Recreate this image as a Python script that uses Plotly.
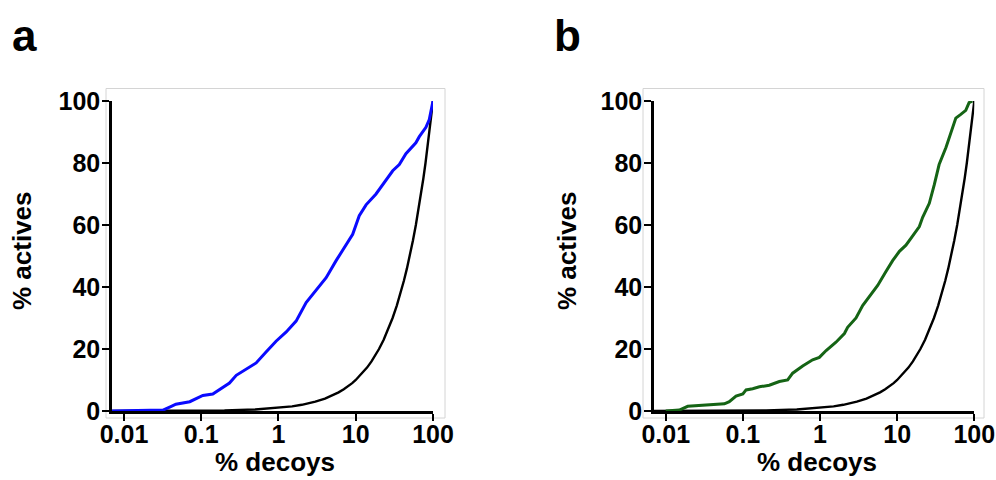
import plotly.graph_objects as go

OFF = 0
W, H = 996, 480

# Panel a: blue enrichment curve (% decoys, % actives)
a_decoys = [0.007, 0.02, 0.032, 0.041, 0.047, 0.071, 0.095, 0.105, 0.141, 0.173, 0.232, 0.284,
            0.382, 0.514, 0.69, 0.93, 1.26, 1.69, 2.28, 3.07, 4.14, 5.57, 7.5, 9.13, 11.1,
            13.6, 18.3, 24.7, 30.1, 36.6, 44.6, 60, 66.5, 81, 89.5, 100]
a_actives = [0, 0.1, 0.3, 1.5, 2.2, 3.0, 4.5, 5.0, 5.5, 7.0, 9.0, 11.5,
             13.5, 15.5, 19.0, 22.5, 25.5, 29.0, 35.0, 39.0, 43.0, 48.5, 53.5, 57.0, 63.0,
             66.5, 70.0, 74.5, 77.5, 79.5, 83.0, 86.5, 88.5, 91.5, 94.0, 100]

# Panel b: green enrichment curve
b_decoys = [0.01, 0.015, 0.0193, 0.0273, 0.0406, 0.0577, 0.0667, 0.0815, 0.1, 0.11, 0.134,
            0.164, 0.22, 0.297, 0.381, 0.442, 0.596, 0.803, 0.98, 1.2, 1.61, 2.07, 2.28,
            2.93, 3.57, 4.36, 5.59, 7.16, 8.74, 10.7, 13.0, 15.9, 19.4, 21.4, 26.1, 30.3,
            35.0, 42.9, 49.8, 57.6, 66.8, 77.5, 85.6, 94.7]
b_actives = [0, 0.3, 1.5, 1.8, 2.2, 2.3, 3.0, 4.8, 5.5, 6.8, 7.2,
             7.8, 8.3, 9.5, 10.0, 12.2, 14.5, 16.5, 17.3, 19.5, 22.2, 25.0, 27.0,
             30.0, 34.0, 37.0, 40.5, 45.0, 48.5, 51.5, 53.5, 56.5, 59.5, 62.5, 67.0, 73.0,
             79.5, 85.0, 89.5, 94.5, 95.7, 97.0, 99.5, 100]

# Random (diagonal) reference: % actives equals % decoys
random_pct = [0.007, 0.01, 0.02, 0.05, 0.1, 0.2, 0.5, 1, 1.5, 2, 3, 4, 5, 6, 7, 8, 9, 10,
              12, 14, 16, 18, 20, 23, 26, 30, 34, 38, 42, 46, 50, 55, 60, 65, 70, 75,
              80, 85, 90, 95, 100]

tick_vals = [0.01, 0.1, 1, 10, 100]
tick_text = ["0.01", "0.1", "1", "10", "100"]
y_ticks = [0, 20, 40, 60, 80, 100]

FONT = "Liberation Sans, Arial, sans-serif"

fig = go.Figure()
fig.add_trace(go.Scatter(x=random_pct, y=random_pct, mode="lines",
                         line=dict(color="black", width=2.4), xaxis="x", yaxis="y",
                         showlegend=False, hoverinfo="skip"))
fig.add_trace(go.Scatter(x=a_decoys, y=a_actives, mode="lines",
                         line=dict(color="#0a0aff", width=3), xaxis="x", yaxis="y",
                         showlegend=False))
fig.add_trace(go.Scatter(x=random_pct, y=random_pct, mode="lines",
                         line=dict(color="black", width=2.4), xaxis="x2", yaxis="y2",
                         showlegend=False, hoverinfo="skip"))
fig.add_trace(go.Scatter(x=b_decoys, y=b_actives, mode="lines",
                         line=dict(color="#156415", width=3), xaxis="x2", yaxis="y2",
                         showlegend=False))

def xpx(p):
    return (p - OFF) / W

def ypx(p):
    return 1 - (p - OFF) / H

tickfont = dict(family=FONT, size=25, color="black", weight="bold")

common_x = dict(type="log", showline=True, linecolor="black", linewidth=2.5,
                ticks="outside", ticklen=7, tickwidth=2.2, tickcolor="black",
                tickvals=tick_vals, ticktext=tick_text, tickfont=tickfont,
                ticklabelstandoff=-8,
                showgrid=False, zeroline=False, fixedrange=True, automargin=False)
common_y = dict(range=[0, 100], showline=True, linecolor="black", linewidth=2.5,
                ticks="outside", ticklen=7, tickwidth=2.2, tickcolor="black",
                tickvals=y_ticks, tickfont=tickfont, ticklabelstandoff=-3,
                showgrid=False, zeroline=False,
                fixedrange=True, automargin=False)

fig.update_layout(
    width=W, height=H, margin=dict(l=0, r=0, t=0, b=0, pad=0, autoexpand=False),
    paper_bgcolor="white", plot_bgcolor="rgba(0,0,0,0)",
    xaxis=dict(common_x, domain=[xpx(112), xpx(433)], range=[-2.155, 2.0], anchor="y"),
    yaxis=dict(common_y, domain=[ypx(411), ypx(101)], anchor="x"),
    xaxis2=dict(common_x, domain=[xpx(654), xpx(974.3)], range=[-2.152, 2.0], anchor="y2"),
    yaxis2=dict(common_y, domain=[ypx(411), ypx(101)], anchor="x2"),
)

# light gray frames around each panel
for (x0, x1) in [(106, 445), (643, 984)]:
    fig.add_shape(type="rect", xref="paper", yref="paper",
                  x0=xpx(x0), x1=xpx(x1), y0=ypx(418), y1=ypx(88.5),
                  line=dict(color="#d4d4d4", width=1), layer="below")

title_font = dict(family=FONT, size=26, color="black", weight="bold")
for cx in [275, 817]:
    fig.add_annotation(text="% decoys", xref="paper", yref="paper",
                       x=xpx(cx), y=ypx(462), xanchor="center", yanchor="middle",
                       showarrow=False, font=title_font)
for cx in [22, 567]:
    fig.add_annotation(text="% actives", xref="paper", yref="paper",
                       x=xpx(cx), y=ypx(251), xanchor="center", yanchor="middle",
                       textangle=-90, showarrow=False, font=title_font)

label_font = dict(family=FONT, size=44, color="black", weight="bold")
for lab, lx in [("a", 10), ("b", 552)]:
    fig.add_annotation(text=lab, xref="paper", yref="paper",
                       x=xpx(lx), y=ypx(36), xanchor="left", yanchor="middle",
                       showarrow=False, font=label_font)

fig.write_html(
    "out.html",
    config={"displayModeBar": False},
    post_script="document.body.style.margin='0';document.body.style.overflow='hidden';",
)
